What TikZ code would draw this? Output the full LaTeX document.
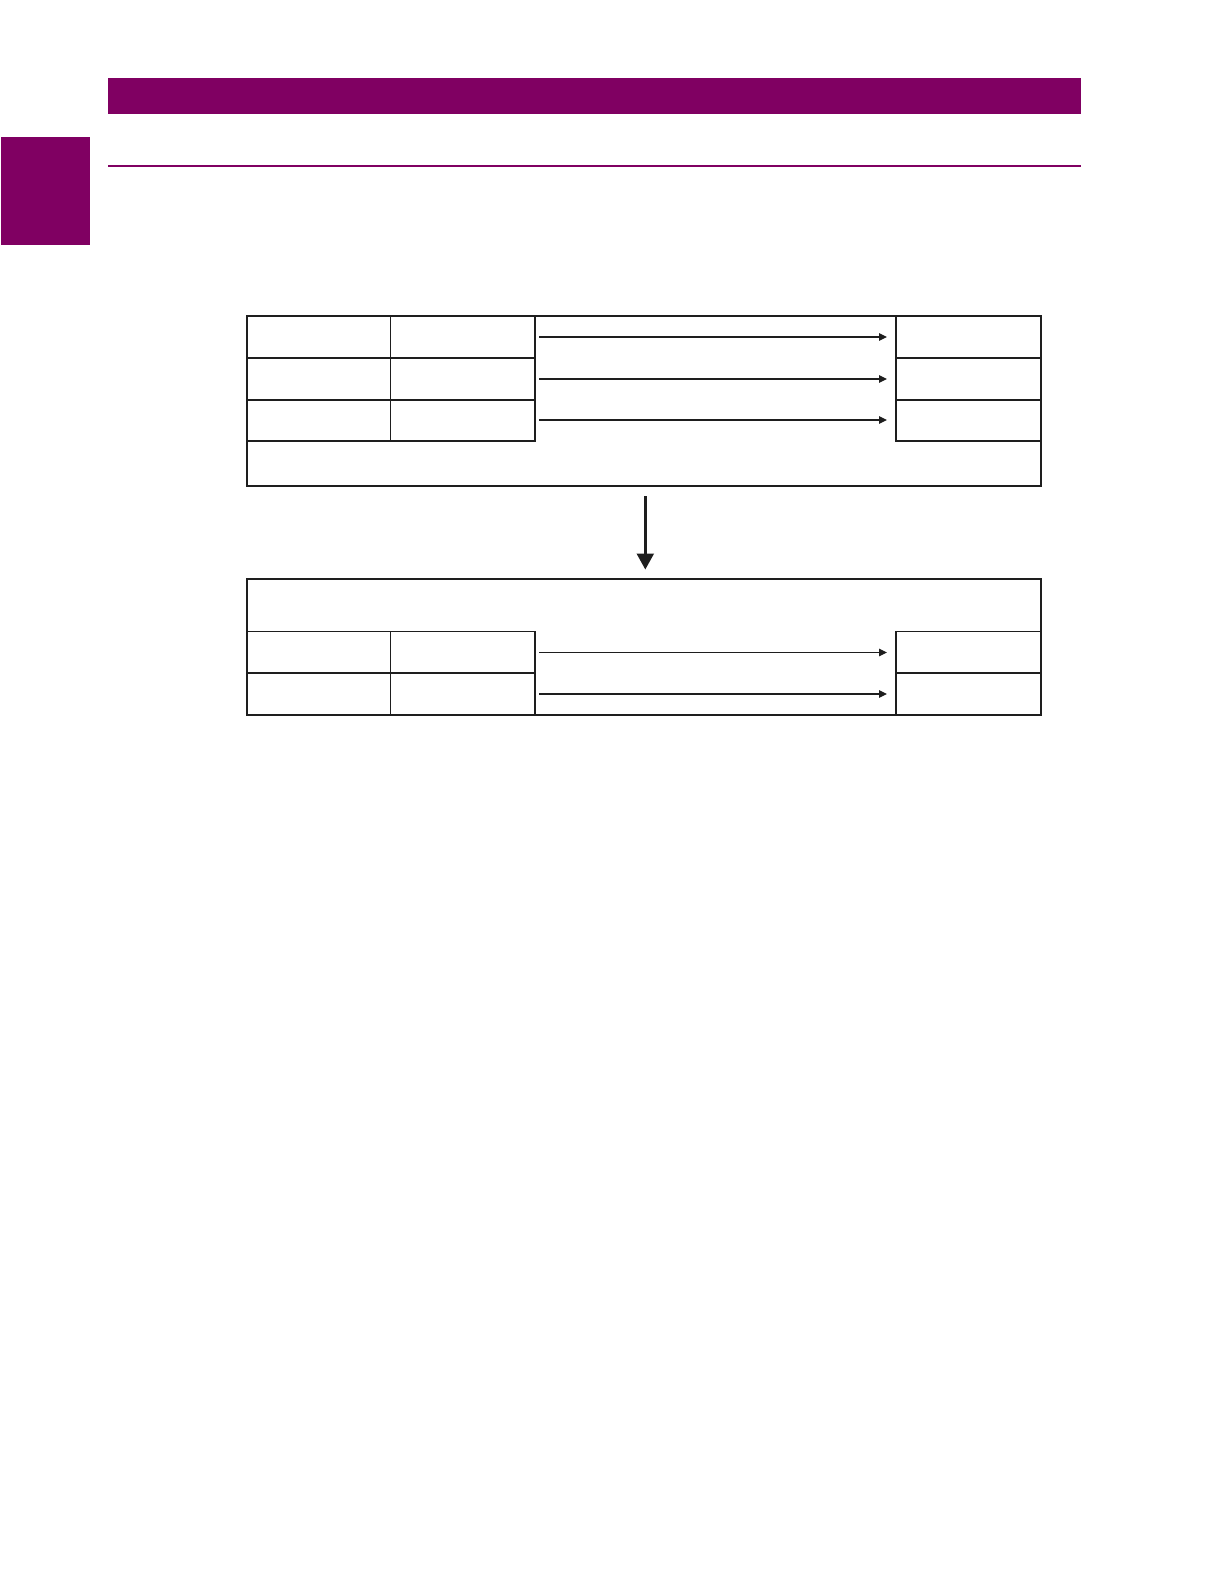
\documentclass[tikz,border=0pt]{standalone}
\usetikzlibrary{arrows.meta}
\definecolor{gepurple}{RGB}{128,0,98}
\definecolor{ink}{RGB}{30,30,30}
\begin{document}
\begin{tikzpicture}[x=1pt,y=-1pt,
  cell/.style={draw=ink,line width=1.5pt,line cap=rect},
  flow/.style={draw=ink,line width=1.1pt,-{Triangle[length=8pt,width=7.5pt]}},
  bigflow/.style={draw=ink,line width=2.4pt,-{Triangle[length=16pt,width=17pt]}}]
\useasboundingbox (0,0) rectangle (1224,1584);
% header graphics
\fill[gepurple] (108,78) rectangle (1081,114);
\fill[gepurple] (1,137) rectangle (90,245);
\draw[gepurple,line width=2pt] (108,166) -- (1081,166);
% upper block
\draw[cell] (247,316) rectangle (1041,486);
\draw[cell] (247,358) -- (535,358) (247,400) -- (535,400) (247,441) -- (535,441);
\draw[cell] (896,358) -- (1041,358) (896,400) -- (1041,400) (896,441) -- (1041,441);
\draw[cell] (390.5,316) -- (390.5,441) (535,316) -- (535,441) (896,316) -- (896,441);
\coordinate (u1s) at (539,337); \coordinate (u1e) at (887,337);
\coordinate (u2s) at (539,379); \coordinate (u2e) at (887,379);
\coordinate (u3s) at (539,420); \coordinate (u3e) at (887,420);
\draw[flow] (u1s) -- (u1e);
\draw[flow] (u2s) -- (u2e);
\draw[flow] (u3s) -- (u3e);
% big arrow
\coordinate (bs) at (645.3,496); \coordinate (be) at (645.3,569.5);
\draw[bigflow] (bs) -- (be);
% lower block
\draw[cell] (247,579) rectangle (1041,715);
\draw[cell] (247,631.5) -- (535,631.5) (247,673) -- (535,673);
\draw[cell] (896,631.5) -- (1041,631.5) (896,673) -- (1041,673);
\draw[cell] (390.5,631.5) -- (390.5,715) (535,631.5) -- (535,715) (896,631.5) -- (896,715);
\coordinate (l1s) at (539,652.5); \coordinate (l1e) at (887,652.5);
\coordinate (l2s) at (539,694); \coordinate (l2e) at (887,694);
\draw[flow] (l1s) -- (l1e);
\draw[flow] (l2s) -- (l2e);
\end{tikzpicture}
\end{document}
